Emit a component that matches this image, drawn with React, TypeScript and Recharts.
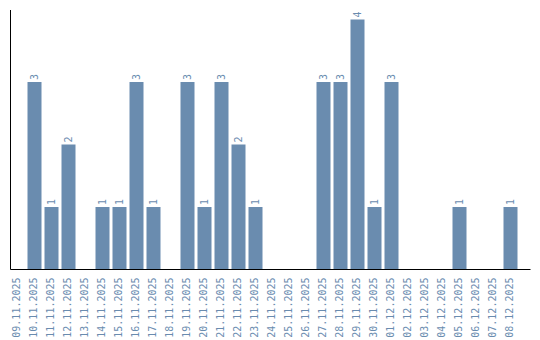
import React from "react";
import { BarChart, Bar, XAxis, YAxis, LabelList } from "recharts";

const dates = [
  "09.11.2025", "10.11.2025", "11.11.2025", "12.11.2025", "13.11.2025",
  "14.11.2025", "15.11.2025", "16.11.2025", "17.11.2025", "18.11.2025",
  "19.11.2025", "20.11.2025", "21.11.2025", "22.11.2025", "23.11.2025",
  "24.11.2025", "25.11.2025", "26.11.2025", "27.11.2025", "28.11.2025",
  "29.11.2025", "30.11.2025", "01.12.2025", "02.12.2025", "03.12.2025",
  "04.12.2025", "05.12.2025", "06.12.2025", "07.12.2025", "08.12.2025",
];
const counts = [0, 3, 1, 2, 0, 1, 1, 3, 1, 0, 3, 1, 3, 2, 1, 0, 0, 0, 3, 3, 4, 1, 3, 0, 0, 0, 1, 0, 0, 1];

const data = dates.map((d, i) => ({ date: d, count: counts[i] }));

const BLUE = "#6a8caf";
const FONT = "'DejaVu Sans Mono', monospace";

const DateTick = (props: any) => {
  const { x, y, payload } = props;
  const cx = x - 0.7;
  return (
    <text
      x={cx}
      y={y}
      transform={`rotate(-90, ${cx}, ${y})`}
      textAnchor="end"
      dy="0.35em"
      fill={BLUE}
      fontFamily={FONT}
      fontSize={10}
    >
      {payload.value}
    </text>
  );
};

const ValueLabel = (props: any) => {
  const { x, y, width, value } = props;
  if (!value) return null;
  const cx = x + width / 2;
  const cy = y - 2;
  return (
    <text
      x={cx}
      y={cy}
      transform={`rotate(-90, ${cx}, ${cy})`}
      textAnchor="start"
      dy="0.35em"
      fill={BLUE}
      fontFamily={FONT}
      fontSize={10}
    >
      {value}
    </text>
  );
};

export default function App() {
  return (
    <div style={{ position: "absolute", left: 0, top: 0, background: "#fff" }}>
      <BarChart
        width={540}
        height={340}
        data={data}
        margin={{ top: 10, right: 9.5, bottom: 0, left: 0 }}
        barCategoryGap={0}
      >
        <XAxis
          dataKey="date"
          interval={0}
          height={70.5}
          tickLine={false}
          axisLine={{ stroke: "#000" }}
          padding={{ left: -2, right: 12 }}
          tick={<DateTick />}
        />
        <YAxis
          domain={[0, 4.15]}
          width={10.5}
          tick={false}
          tickLine={false}
          axisLine={{ stroke: "#000" }}
          allowDataOverflow
        />
        <Bar dataKey="count" fill={BLUE} barSize={14} isAnimationActive={false}>
          <LabelList dataKey="count" content={<ValueLabel />} />
        </Bar>
      </BarChart>
    </div>
  );
}
